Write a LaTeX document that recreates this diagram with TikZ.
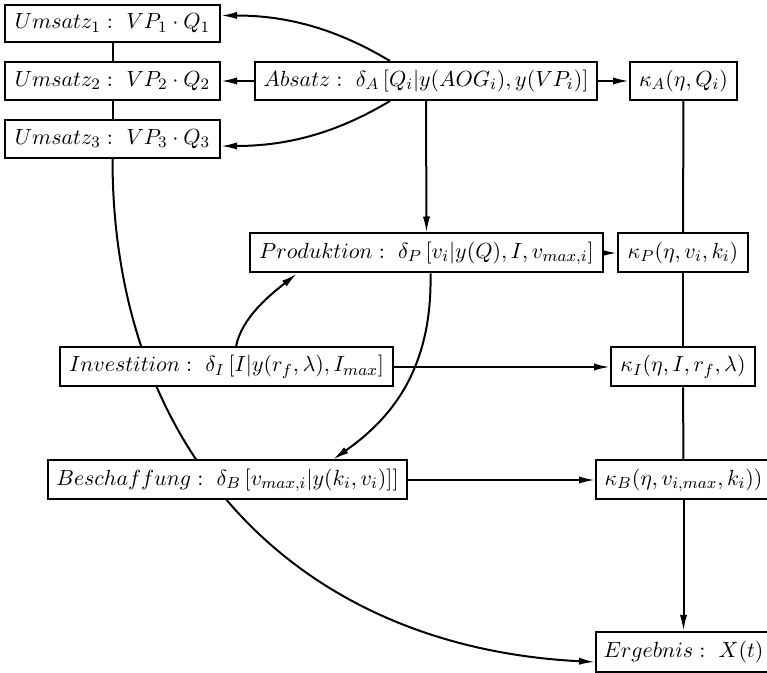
\documentclass[tikz,border=0pt]{standalone}
\usetikzlibrary{arrows.meta,calc,backgrounds}
\begin{document}
\begin{tikzpicture}[x=0.5pt,y=-0.5pt,
  box/.style={draw,line width=1pt,fill=white,inner sep=0pt,minimum height=19.5pt,font=\fontsize{10.8}{13}\selectfont},
  con/.style={line width=1pt},
  arr/.style={con,-{Latex[length=8pt,width=3.6pt]}}]
\useasboundingbox (0,0) rectangle (767,673);
% left column
\node[box,minimum width=107.5pt,minimum height=18.5pt] (U1) at (112.5,23.5) {$Umsatz_1:\ VP_1\cdot Q_1$};
\node[box,minimum width=107.5pt,minimum height=19pt] (U2) at (112.5,81) {$Umsatz_2:\ VP_2\cdot Q_2$};
\node[box,minimum width=107.5pt,minimum height=19pt] (U3) at (112.5,139) {$Umsatz_3:\ VP_3\cdot Q_3$};
% middle
\node[box,minimum width=171pt,minimum height=19pt] (A) at (426,81) {$Absatz:\ \delta_A\,[Q_i|y(AOG_i),y(VP_i)]$};
\node[box,minimum width=176.5pt] (P) at (426.5,253) {$Produktion:\ \delta_P\,[v_i|y(Q),I,v_{max,i}]$};
\node[box,minimum width=166.5pt] (I) at (226.5,367) {$Investition:\ \delta_I\,[I|y(r_f,\lambda),I_{max}]$};
\node[box,minimum width=179.5pt] (B) at (227.5,480) {$Beschaffung:\ \delta_B\,[v_{max,i}|y(k_i,v_i)]]$};
% right column
\node[box,minimum width=53.5pt,minimum height=19pt] (kA) at (683.5,81) {$\kappa_A(\eta,Q_i)$};
\node[box,minimum width=65pt] (kP) at (683,253) {$\kappa_P(\eta,v_i,k_i)$};
\node[box,minimum width=72pt] (kI) at (683,367) {$\kappa_I(\eta,I,r_f,\lambda)$};
\node[box,minimum width=87.5pt] (kB) at (683.5,480) {$\kappa_B(\eta,v_{i,max},k_i))$};
\node[box,minimum width=87.5pt,minimum height=20pt] (E) at (683.5,652) {$Ergebnis:\ X(t)$};
\begin{scope}[on background layer]
\draw[con] (U1) -- (U2);
\draw[con] (U2) -- (U3);
\draw[arr] (A.west) -- (U2.east);
\draw[arr] (A.east) -- (kA.west);
\draw[arr] ($(A.north)+(-36,0)$) .. controls +(-50,-30) and +(70,0) .. ($(U1.east)+(0,-8)$);
\draw[arr] ($(A.south)+(-36,0)$) .. controls +(-50,30) and +(70,0) .. ($(U3.east)+(0,7)$);
\draw[arr] (A.south) -- (P.north);
\draw[arr] (P.east) -- (kP.west);
\draw[con] (kA) -- (kP);
\draw[con] (kP) -- (kI);
\draw[con] (kI) -- (kB);
\draw[arr] (kB) -- (E);
\draw[arr] ($(P.south)+(4,0)$) .. controls +(2,97) and +(57,-40) .. ($(B.north)+(105.5,0)$);
\draw[arr] ($(I.north)+(9.5,0)$) .. controls +(6,-30) and +(-25,20) .. ($(P.south)+(-129.5,0)$);
\draw[arr] (I.east) -- (kI.west);
\draw[arr] (B.east) -- (kB.west);
\draw[arr] (U3.south) .. controls +(0,292) and +(-300,-15) .. ($(E.west)+(0,10)$);
\end{scope}
\end{tikzpicture}
\end{document}
